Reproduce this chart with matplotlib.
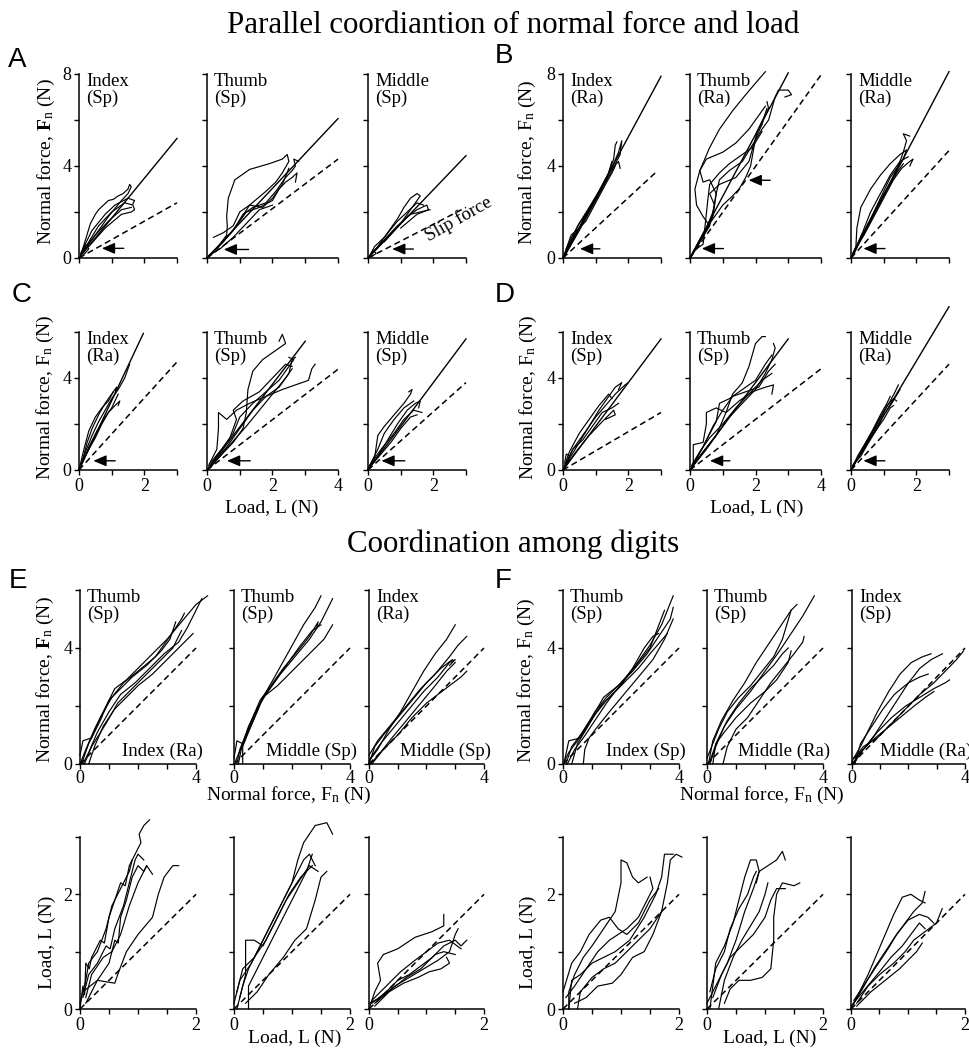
import matplotlib
matplotlib.use('Agg')
import matplotlib.pyplot as plt
from matplotlib.transforms import offset_copy

plt.rcParams['font.family'] = 'Liberation Serif'
plt.rcParams['mathtext.fontset'] = 'custom'
plt.rcParams['mathtext.rm'] = 'Liberation Serif'
plt.rcParams['mathtext.it'] = 'Liberation Serif:italic'
plt.rcParams['mathtext.bf'] = 'Liberation Serif:bold'

# ------------------------------------------------------------------ data
TITLE_TOP = "Parallel coordiantion of normal force and load"
TITLE_MID = "Coordination among digits"

# Rows A-D: normal force vs load. label, x max, solid line end, dashed (slip) end, arrows (tail x, head x, y)
A_labels = ["Index\n(Sp)", "Thumb\n(Sp)", "Middle\n(Sp)"]
B_labels = ["Index\n(Ra)", "Thumb\n(Ra)", "Middle\n(Ra)"]
C_labels = ["Index\n(Ra)", "Thumb\n(Sp)", "Middle\n(Sp)"]
D_labels = ["Index\n(Sp)", "Thumb\n(Sp)", "Middle\n(Ra)"]
xmax_ABCD = [3, 4, 3]

A_solid = [(3, 5.2), (4, 6.06), (3, 4.45)]
A_dash = [(3, 2.4), (4, 4.3), (3, 2.2)]
A_arrows = [[(1.37, 0.70, 0.42)], [(1.27, 0.51, 0.37)], [(1.39, 0.74, 0.39)]]
B_solid = [(3, 7.9), (3.0, 8.05), (3, 8.1)]
B_dash = [(2.9, 3.8), (4, 7.96), (3, 4.67)]
B_arrows = [[(1.13, 0.52, 0.40)], [(1.02, 0.36, 0.41), (2.45, 1.79, 3.38)], [(1.04, 0.38, 0.41)]]
C_solid = [(1.97, 5.94), (3.0, 5.6), (3, 5.7)]
C_dash = [(3, 4.7), (4, 4.38), (3, 3.8)]
C_arrows = [[(1.11, 0.44, 0.40)], [(1.32, 0.61, 0.40)], [(1.13, 0.41, 0.40)]]
D_solid = [(3, 5.7), (3.0, 5.7), (3, 7.1)]
D_dash = [(3, 2.5), (4, 4.4), (3, 4.6)]
D_arrows = [[], [(1.22, 0.61, 0.40)], [(1.04, 0.38, 0.40)]]

A_index = [
    [(0.05, 0.1), (0.2, 0.8), (0.35, 1.5), (0.5, 1.9), (0.6, 2.1), (0.75, 2.3), (0.9, 2.5), (1.05, 2.55), (1.2, 2.7), (1.35, 2.8), (1.5, 3.0), (1.55, 3.2), (1.6, 3.1), (1.5, 2.8), (1.3, 2.5), (0.9, 1.8), (0.5, 1.0), (0.15, 0.3)],
    [(0, 0), (0.3, 0.7), (0.6, 1.4), (1.0, 2.0), (1.4, 2.4), (1.65, 2.3), (1.7, 2.1), (1.6, 2.0), (1.3, 1.9), (0.8, 1.3), (0.3, 0.5)],
    [(0.05, 0.2), (0.4, 1.2), (0.8, 1.9), (1.1, 2.3), (1.5, 2.6), (1.7, 2.5), (1.65, 2.35)],
    [(0.1, 0.3), (0.5, 1.0), (0.9, 1.6), (1.3, 2.1), (1.6, 2.2)],
    [(0.1, 0.2), (0.2, 0.6), (0.3, 0.4), (0.15, 0.15)],
]
A_thumb = [
    [(0.1, 0.1), (0.4, 0.6), (0.6, 1.0), (0.62, 1.4), (0.6, 1.8), (0.65, 2.6), (0.85, 3.4), (1.3, 3.85), (1.9, 4.1), (2.3, 4.3), (2.45, 4.5), (2.5, 4.2), (2.3, 3.7), (2.1, 3.3), (1.8, 2.9), (1.3, 2.3), (0.8, 1.2), (0.3, 0.4)],
    [(0, 0), (0.4, 0.6), (0.8, 1.2), (1.1, 1.9), (1.4, 2.2), (1.8, 2.4), (2.1, 2.9), (2.4, 3.5), (2.6, 3.8), (2.7, 4.0), (2.65, 4.3), (2.8, 4.2)],
    [(0.05, 0.1), (0.5, 0.7), (0.9, 1.4), (1.2, 2.0), (1.6, 2.2), (2.0, 2.5), (2.2, 3.0), (2.4, 3.3), (2.6, 3.5), (2.75, 3.7), (2.7, 3.3)],
    [(0.2, 0.9), (0.5, 1.1), (0.8, 1.4), (1.0, 2.0), (1.3, 2.3), (1.7, 2.2), (2.0, 2.6), (2.3, 3.2), (2.5, 3.9)],
    [(0.05, 0.1), (0.4, 0.4), (0.8, 0.9), (1.2, 1.5), (1.6, 2.1), (2.0, 2.3)],
]
A_middle = [
    [(0.05, 0.1), (0.3, 0.5), (0.6, 1.1), (0.9, 1.7), (1.1, 2.2), (1.3, 2.6), (1.5, 2.8), (1.6, 2.7), (1.4, 2.3), (1.0, 1.5), (0.5, 0.7)],
    [(0, 0), (0.4, 0.6), (0.8, 1.2), (1.2, 1.8), (1.5, 2.1), (1.8, 2.3), (1.85, 2.1), (1.5, 1.9), (1.0, 1.3)],
    [(0.05, 0.1), (0.5, 0.8), (0.9, 1.4), (1.3, 1.9), (1.6, 2.0), (1.9, 2.1)],
    [(0.1, 0.2), (0.2, 0.5), (0.5, 0.9), (0.9, 1.6), (1.2, 2.0), (1.5, 2.4), (1.7, 2.3)],
    [(0.05, 0.1), (0.15, 0.35), (0.25, 0.2), (0.1, 0.05)],
]
B_index = [
    [(0, 0), (0.2, 0.6), (0.4, 1.1), (0.7, 1.8), (1.0, 2.6), (1.3, 3.4), (1.55, 4.1), (1.7, 4.6), (1.8, 5.1), (1.75, 4.5), (1.5, 3.8), (1.0, 2.5), (0.5, 1.2), (0.1, 0.2)],
    [(0.05, 0.1), (0.3, 0.9), (0.45, 1.4), (0.8, 2.2), (1.1, 2.9), (1.4, 3.7), (1.55, 4.3), (1.6, 4.9), (1.65, 5.05)],
    [(0, 0), (0.15, 0.6), (0.25, 1.0), (0.5, 1.3), (0.7, 1.6), (1.0, 2.4), (1.3, 3.2), (1.5, 3.7), (1.6, 4.0)],
    [(0.05, 0.2), (0.4, 1.0), (0.6, 1.6), (0.9, 2.4), (1.2, 3.1), (1.45, 3.8), (1.7, 4.2), (1.75, 3.9)],
    [(0.1, 0.4), (0.3, 1.0), (0.5, 1.5), (0.8, 2.1), (1.1, 2.8), (1.35, 3.5), (1.5, 4.2)],
]
B_thumb = [
    [(0, 0), (0.3, 0.8), (0.6, 1.4), (0.4, 1.8), (0.2, 2.3), (0.15, 3.0), (0.3, 3.8), (0.6, 4.8), (0.9, 5.6), (1.3, 6.4), (1.7, 7.1), (2.0, 7.6), (2.3, 8.1)],
    [(0.05, 0.1), (0.5, 1.2), (0.7, 1.8), (0.8, 2.8), (0.6, 3.4), (0.4, 3.3), (0.3, 3.8), (0.5, 4.3), (1.0, 4.6), (1.4, 5.0), (1.8, 5.6), (2.1, 6.2), (2.3, 6.6)],
    [(0, 0), (0.6, 1.5), (1.0, 2.3), (1.3, 2.7), (1.5, 3.0), (1.7, 3.5), (1.85, 4.0), (1.95, 4.8), (2.05, 5.5), (2.25, 6.1), (2.4, 6.5), (2.35, 6.8)],
    [(0.05, 0.1), (0.5, 1.3), (0.7, 2.0), (0.8, 2.8), (0.9, 3.4), (1.2, 3.8), (1.6, 4.2), (1.9, 4.9), (2.2, 5.6), (2.4, 6.0), (2.5, 6.5), (2.6, 7.0), (2.7, 7.3), (3.0, 7.3), (3.1, 7.1), (2.9, 7.0)],
    [(0.1, 0.2), (0.6, 1.4), (0.75, 2.3), (0.6, 2.8), (0.9, 3.2), (1.4, 3.5), (1.8, 4.2), (2.0, 5.2), (2.2, 5.8), (2.3, 6.3), (2.35, 6.5)],
    [(0.1, 0.3), (0.4, 0.6), (0.55, 2.6), (0.6, 3.2), (0.9, 3.7), (1.2, 4.1), (1.5, 4.4), (1.9, 4.8), (2.2, 5.5)],
]
B_middle = [
    [(0, 0), (0.15, 0.5), (0.18, 1.3), (0.3, 2.2), (0.6, 3.0), (0.9, 3.6), (1.2, 4.1), (1.5, 4.5), (1.7, 4.7), (1.6, 4.3), (1.2, 3.5), (0.7, 2.0), (0.3, 0.8)],
    [(0.05, 0.1), (0.3, 0.9), (0.6, 1.7), (0.9, 2.5), (1.2, 3.3), (1.45, 4.0), (1.6, 4.6), (1.7, 5.1), (1.6, 5.4), (1.8, 5.3)],
    [(0.05, 0.2), (0.4, 1.0), (0.7, 1.8), (1.0, 2.6), (1.3, 3.4), (1.55, 3.9), (1.8, 4.2), (1.9, 4.3), (1.8, 4.0)],
    [(0.1, 0.2), (0.5, 1.4), (0.8, 2.2), (1.1, 3.0), (1.4, 3.7), (1.6, 4.1)],
    [(0.0, 0.0), (0.35, 1.1), (0.6, 2.0), (0.9, 2.8), (1.2, 3.6), (1.5, 4.2), (1.75, 4.4)],
]
C_index = [
    [(0, 0), (0.2, 0.8), (0.4, 1.5), (0.6, 2.1), (0.8, 2.6), (1.0, 3.1), (1.2, 3.5), (1.4, 4.0), (1.55, 4.6)],
    [(0.05, 0.1), (0.25, 1.2), (0.4, 1.8), (0.6, 2.4), (0.8, 2.9), (1.0, 3.3), (1.15, 3.6), (1.1, 3.3)],
    [(0.05, 0.2), (0.3, 0.9), (0.5, 1.4), (0.7, 2.0), (0.9, 2.5), (1.1, 2.8), (1.25, 3.0), (1.2, 2.8)],
    [(0, 0), (0.15, 0.9), (0.3, 1.7), (0.5, 2.3), (0.7, 2.7), (0.9, 3.0), (1.05, 3.4)],
    [(0.1, 0.3), (0.3, 1.0), (0.55, 1.7), (0.8, 2.3), (1.0, 2.7), (1.2, 3.3)],
]
C_thumb = [
    [(0, 0), (0.4, 0.6), (0.8, 1.2), (1.1, 1.8), (1.2, 2.5), (1.25, 3.5), (1.4, 4.3), (1.7, 4.8), (2.1, 5.2), (2.4, 5.5), (2.3, 5.9), (2.2, 5.6)],
    [(0.05, 0.1), (0.6, 1.0), (1.0, 1.8), (1.4, 2.6), (1.8, 3.2), (2.3, 3.5), (2.7, 3.7), (3.1, 3.9), (3.2, 4.4), (3.3, 4.6)],
    [(0.05, 0.2), (0.3, 0.9), (0.35, 1.8), (0.35, 2.5), (0.6, 2.2), (0.9, 2.6), (1.3, 2.9), (1.8, 3.2), (2.2, 3.6), (2.5, 4.2), (2.6, 4.8), (2.7, 4.9)],
    [(0.1, 0.3), (0.5, 1.0), (0.8, 1.6), (1.0, 2.3), (1.4, 2.9), (1.8, 3.4), (2.2, 3.9), (2.5, 4.5), (2.65, 4.8), (2.5, 4.9)],
    [(0, 0), (0.4, 0.8), (0.7, 1.4), (0.9, 2.2), (0.8, 2.6), (1.1, 3.0), (1.6, 3.4), (2.0, 4.0), (2.4, 4.6), (2.6, 4.5)],
    [(0.1, 0.1), (0.7, 1.1), (1.2, 1.9), (1.6, 2.6), (2.0, 3.3), (2.4, 4.0), (2.6, 4.4)],
]
C_middle = [
    [(0, 0), (0.2, 0.5), (0.25, 1.0), (0.3, 1.5), (0.5, 1.9), (0.8, 2.4), (1.1, 2.9), (1.3, 3.3), (1.35, 3.5), (1.25, 3.4)],
    [(0.05, 0.1), (0.3, 0.6), (0.6, 1.3), (0.9, 2.0), (1.2, 2.6), (1.45, 2.9), (1.6, 3.0), (1.55, 2.7)],
    [(0.05, 0.2), (0.4, 0.9), (0.8, 1.6), (1.1, 2.2), (1.4, 2.6), (1.65, 2.5)],
    [(0.1, 0.2), (0.4, 0.7), (0.7, 1.2), (1.0, 1.8), (1.3, 2.3), (1.5, 2.4)],
    [(0, 0.05), (0.3, 0.9), (0.5, 1.6), (0.8, 2.2), (1.1, 2.7), (1.4, 3.0)],
]
D_index = [
    [(0, 0), (0.2, 0.5), (0.5, 1.2), (0.8, 1.9), (1.1, 2.6), (1.4, 3.2), (1.6, 3.6), (1.8, 3.8), (1.7, 3.5)],
    [(0.05, 0.2), (0.2, 0.8), (0.5, 1.6), (0.8, 2.2), (1.1, 2.8), (1.4, 3.3), (1.5, 3.1)],
    [(0.05, 0.1), (0.4, 0.8), (0.8, 1.5), (1.2, 2.1), (1.55, 2.6), (1.6, 2.4), (1.3, 2.2)],
    [(0, 0), (0.3, 0.9), (0.7, 1.7), (1.0, 2.3), (1.3, 2.8), (1.6, 3.3), (1.9, 3.7), (2.0, 3.8)],
    [(0.1, 0.3), (0.3, 0.9), (0.6, 1.3), (0.9, 1.9), (1.2, 2.5), (1.5, 2.7), (1.7, 2.9)],
    [(0.05, 0.3), (0.1, 0.7), (0.2, 0.6), (0.15, 0.3)],
]
D_thumb = [
    [(0, 0), (0.4, 0.8), (0.8, 1.5), (1.1, 2.5), (1.3, 3.3), (1.6, 3.8), (1.8, 4.5), (1.9, 5.0), (2.0, 5.5), (2.2, 5.8), (2.3, 5.8)],
    [(0.05, 0.1), (0.5, 0.9), (0.9, 1.7), (1.2, 2.3), (1.6, 2.9), (2.0, 3.5), (2.3, 4.2), (2.5, 4.8), (2.6, 5.3), (2.55, 5.5)],
    [(0.1, 0.3), (0.1, 1.1), (0.4, 1.2), (0.5, 2.0), (0.5, 2.5), (0.8, 2.7), (1.1, 2.5), (1.5, 3.0), (1.9, 3.4), (2.3, 3.6), (2.55, 3.7), (2.5, 3.3)],
    [(0, 0), (0.4, 1.0), (0.7, 1.9), (1.0, 2.6), (1.3, 3.2), (1.7, 3.4), (2.1, 3.6), (2.4, 4.3), (2.6, 4.6)],
    [(0.05, 0.2), (0.3, 0.8), (0.6, 1.4), (1.0, 2.0), (1.4, 2.7), (1.8, 3.3), (2.2, 3.9), (2.5, 4.2)],
    [(0.1, 0.2), (0.5, 1.3), (0.8, 2.1), (0.9, 2.9), (1.2, 3.1), (1.6, 3.5), (2.0, 3.9), (2.3, 4.6), (2.5, 5.0)],
]
D_middle = [
    [(0, 0), (0.2, 0.5), (0.4, 1.0), (0.6, 1.5), (0.8, 2.0), (1.0, 2.5), (1.2, 3.0), (1.35, 3.4), (1.45, 3.7)],
    [(0.05, 0.1), (0.3, 0.8), (0.5, 1.3), (0.7, 1.8), (0.9, 2.3), (1.1, 2.8), (1.3, 3.1), (1.4, 3.0)],
    [(0.05, 0.2), (0.35, 0.8), (0.55, 1.3), (0.75, 1.7), (1.0, 2.2), (1.2, 2.7), (1.3, 2.8)],
    [(0, 0), (0.2, 0.6), (0.45, 1.2), (0.65, 1.7), (0.9, 2.4), (1.1, 2.9), (1.2, 3.2)],
    [(0.1, 0.3), (0.3, 0.6), (0.5, 1.1), (0.8, 1.8), (1.0, 2.4), (1.25, 2.9), (1.5, 3.5)],
]

# Rows E/F: normal force of one digit vs another
E_top_labels = ["Thumb\n(Sp)", "Thumb\n(Sp)", "Index\n(Ra)"]
E_bot_labels = ["Index (Ra)", "Middle (Sp)", "Middle (Sp)"]
F_top_labels = ["Thumb\n(Sp)", "Thumb\n(Sp)", "Index\n(Sp)"]
F_bot_labels = ["Index (Sp)", "Middle (Ra)", "Middle (Ra)"]

E_1 = [
    [(0, 0), (0.2, 0.5), (0.5, 1.2), (0.9, 2.0), (1.2, 2.6), (1.6, 2.9), (2.0, 3.3), (2.5, 3.8), (3.0, 4.3), (3.5, 4.9), (4.0, 5.5), (4.4, 5.8)],
    [(0.05, 0.0), (0.3, 0.7), (0.7, 1.5), (1.0, 2.2), (1.4, 2.6), (1.8, 3.0), (2.3, 3.4), (2.8, 3.9), (3.1, 4.3), (3.3, 4.9)],
    [(0.1, 0.0), (0.3, 0.4), (0.6, 1.1), (1.0, 1.8), (1.4, 2.4), (1.9, 2.8), (2.4, 3.3), (2.9, 3.8), (3.4, 4.2), (3.7, 4.7), (4.2, 5.7)],
    [(0.3, 0.0), (0.5, 0.6), (0.8, 1.3), (1.2, 1.9), (1.6, 2.3), (2.0, 2.7), (2.5, 3.1), (3.0, 3.6), (3.6, 4.2), (3.9, 4.5)],
    [(0.0, 0.3), (0.1, 0.8), (0.4, 0.9), (0.7, 1.6), (1.1, 2.3), (1.5, 2.8), (2.0, 3.2), (2.6, 3.7), (3.1, 4.4), (3.5, 5.0), (3.6, 5.2)],
    [(0.15, 0.0), (0.4, 0.6), (0.9, 1.4), (1.3, 2.1), (1.7, 2.5), (2.2, 3.0), (2.8, 3.6), (3.2, 4.0), (3.5, 4.6)],
]
E_2 = [
    [(0.1, 0.0), (0.2, 0.5), (0.4, 1.0), (0.7, 1.7), (1.0, 2.3), (1.4, 3.0), (1.9, 3.9), (2.4, 4.8), (2.8, 5.4), (3.0, 5.8)],
    [(0.0, 0.2), (0.1, 0.8), (0.3, 0.7), (0.5, 1.3), (0.8, 1.9), (1.1, 2.4), (1.6, 3.1), (2.1, 3.7), (2.6, 4.3), (3.0, 4.9), (3.4, 5.7)],
    [(0.3, 0.0), (0.3, 0.6), (0.5, 1.1), (0.8, 1.8), (1.0, 2.3), (1.5, 2.7), (2.0, 3.2), (2.6, 3.8), (3.1, 4.3), (3.4, 4.8)],
    [(0.15, 0.0), (0.25, 0.5), (0.6, 1.5), (0.9, 2.2), (1.2, 2.6), (1.7, 3.3), (2.2, 3.9), (2.6, 4.4), (2.9, 4.9), (2.85, 4.7)],
    [(0.05, 0.1), (0.4, 0.9), (0.7, 1.6), (1.0, 2.3), (1.3, 2.7), (1.8, 3.4), (2.3, 4.1), (2.7, 4.6), (3.0, 4.8)],
]
E_3 = [
    [(0.0, 0.1), (0.3, 0.5), (0.7, 1.2), (1.1, 1.8), (1.5, 2.5), (1.9, 3.2), (2.3, 3.8), (2.7, 4.3), (3.0, 4.8)],
    [(0.05, 0.2), (0.4, 0.7), (0.9, 1.3), (1.4, 1.9), (1.9, 2.5), (2.4, 3.0), (2.8, 3.5), (3.0, 3.6), (2.8, 3.4)],
    [(0.1, 0.0), (0.5, 0.5), (1.0, 1.0), (1.5, 1.6), (2.0, 2.1), (2.4, 2.4), (2.8, 2.7), (3.2, 3.0), (3.4, 3.2)],
    [(0.0, 0.3), (0.3, 0.8), (0.8, 1.4), (1.3, 2.0), (1.8, 2.6), (2.3, 3.1), (2.8, 3.7), (3.1, 4.1), (3.4, 4.4)],
    [(0.05, 0.0), (0.4, 0.4), (0.8, 0.9), (1.3, 1.5), (1.8, 2.1), (2.3, 2.7), (2.7, 3.2), (3.0, 3.5)],
    [(0.0, 0.0), (0.2, 0.6), (0.5, 1.0), (1.0, 1.6), (1.5, 2.2), (2.0, 2.8), (2.5, 3.3), (2.9, 3.6)],
]
F_1 = [
    [(0.0, 0.0), (0.2, 0.4), (0.5, 0.8), (0.8, 1.3), (1.1, 1.8), (1.5, 2.3), (2.0, 2.8), (2.5, 3.4), (3.0, 4.1), (3.4, 4.8), (3.8, 5.8)],
    [(0.1, 0.0), (0.3, 0.6), (0.6, 1.0), (1.0, 1.6), (1.4, 2.3), (1.9, 2.7), (2.4, 3.2), (2.9, 3.8), (3.3, 4.4), (3.7, 5.0), (3.8, 5.4)],
    [(0.7, 0.0), (0.75, 0.5), (0.9, 0.9), (1.2, 1.3), (1.6, 1.8), (2.1, 2.4), (2.6, 3.0), (3.1, 3.6), (3.5, 4.3), (3.8, 5.0)],
    [(0.3, 0.0), (0.5, 0.7), (0.8, 1.2), (1.1, 1.7), (1.5, 2.2), (2.0, 2.7), (2.4, 3.3), (2.8, 4.0), (3.1, 4.4), (3.3, 4.5)],
    [(0.05, 0.1), (0.2, 0.8), (0.6, 0.9), (0.9, 1.4), (1.3, 2.0), (1.8, 2.5), (2.2, 3.0), (2.6, 3.5), (3.0, 4.0), (3.5, 5.3)],
    [(0.15, 0.0), (0.4, 0.5), (0.7, 0.9), (1.1, 1.5), (1.5, 2.1), (1.8, 2.5), (2.2, 2.9), (2.6, 3.3), (3.0, 3.8), (3.6, 4.5)],
]
F_2 = [
    [(0.05, 0.0), (0.2, 0.8), (0.5, 1.5), (0.9, 2.2), (1.3, 2.8), (1.7, 3.5), (2.1, 4.1), (2.5, 4.7), (2.9, 5.3), (3.1, 5.5)],
    [(0.1, 0.0), (0.3, 0.6), (0.6, 1.3), (1.0, 1.9), (1.5, 2.5), (2.0, 3.2), (2.5, 3.9), (2.9, 4.5), (3.3, 5.1), (3.7, 5.8)],
    [(0.0, 0.2), (0.2, 0.7), (0.4, 1.2), (0.7, 1.8), (1.1, 2.3), (1.5, 2.7), (1.9, 3.2), (2.3, 3.7), (2.6, 4.3), (2.9, 5.3)],
    [(0.2, 0.0), (0.3, 0.7), (0.6, 1.1), (1.0, 1.6), (1.5, 2.1), (2.0, 2.5), (2.4, 2.9), (2.8, 3.5), (2.9, 3.9)],
    [(0.55, 0.0), (0.7, 0.6), (1.0, 1.2), (1.4, 1.6), (1.8, 2.2), (2.2, 2.8), (2.6, 3.3), (3.0, 3.8), (3.3, 4.2), (3.35, 4.4)],
    [(0.1, 0.1), (0.35, 0.8), (0.7, 1.5), (1.1, 2.1), (1.5, 2.6), (1.9, 3.0), (2.3, 3.4), (2.6, 3.8), (2.8, 4.0)],
]
F_3 = [
    [(0.0, 0.1), (0.3, 0.6), (0.6, 1.2), (0.9, 1.8), (1.3, 2.5), (1.7, 3.1), (2.1, 3.5), (2.5, 3.7), (2.8, 3.8)],
    [(0.05, 0.0), (0.4, 0.5), (0.8, 1.0), (1.2, 1.6), (1.6, 2.2), (2.0, 2.8), (2.4, 3.3), (2.8, 3.6), (3.2, 3.8)],
    [(0.1, 0.2), (0.4, 0.6), (0.9, 0.9), (1.4, 1.4), (1.9, 1.9), (2.4, 2.4), (2.9, 2.8), (3.3, 3.2), (3.7, 3.6), (3.95, 3.9)],
    [(0.0, 0.0), (0.3, 0.4), (0.7, 0.8), (1.2, 1.2), (1.7, 1.6), (2.2, 2.0), (2.6, 2.3), (2.9, 2.5)],
    [(0.05, 0.2), (0.4, 0.5), (0.9, 1.1), (1.4, 1.6), (1.9, 2.0), (2.4, 2.3), (2.9, 2.6), (3.3, 2.8), (3.45, 2.9)],
    [(0.1, 0.0), (0.3, 0.7), (0.7, 1.3), (1.1, 1.9), (1.5, 2.4), (2.0, 2.8), (2.4, 3.0), (2.7, 3.1)],
]

# Bottom row: load of one digit vs another
EL_1 = [
    [(0.0, 0.0), (0.05, 0.4), (0.08, 0.25), (0.1, 0.8), (0.16, 0.7), (0.2, 0.9), (0.35, 1.2), (0.42, 1.15), (0.5, 1.6), (0.6, 1.9), (0.7, 2.2), (0.78, 2.15), (0.85, 2.5), (0.95, 2.7), (1.05, 2.9), (1.02, 3.05), (1.1, 3.2), (1.2, 3.3)],
    [(0.05, 0.2), (0.15, 0.6), (0.3, 0.8), (0.45, 1.1), (0.52, 1.05), (0.6, 1.4), (0.75, 1.8), (0.85, 2.2), (0.95, 2.6), (1.0, 2.7), (1.1, 2.6)],
    [(0.1, 0.1), (0.3, 0.5), (0.5, 0.8), (0.6, 1.2), (0.66, 1.15), (0.7, 1.6), (0.8, 1.9), (0.9, 2.3), (1.0, 2.5), (1.1, 2.4), (1.15, 2.5)],
    [(0.05, 0.3), (0.3, 0.5), (0.6, 0.45), (0.65, 0.6), (0.8, 1.0), (1.0, 1.3), (1.25, 1.6), (1.35, 2.0), (1.45, 2.3), (1.6, 2.5), (1.7, 2.5)],
    [(0.1, 0.2), (0.2, 0.6), (0.4, 0.9), (0.55, 1.0), (0.7, 1.3), (0.85, 1.8), (1.0, 2.2), (1.15, 2.5), (1.25, 2.35)],
    [(0.0, 0.1), (0.1, 0.5), (0.15, 0.8), (0.3, 1.0), (0.45, 1.4), (0.55, 1.8), (0.7, 2.1), (0.85, 2.4), (0.9, 2.6)],
]
EL_2 = [
    [(0.05, 0.0), (0.15, 0.4), (0.25, 0.7), (0.4, 1.0), (0.6, 1.4), (0.8, 1.8), (1.0, 2.2), (1.1, 2.6), (1.2, 2.9), (1.4, 3.2), (1.6, 3.25), (1.7, 3.05)],
    [(0.0, 0.1), (0.1, 0.5), (0.3, 0.8), (0.45, 1.1), (0.65, 1.5), (0.85, 1.9), (1.05, 2.3), (1.2, 2.6), (1.3, 2.7), (1.4, 2.5)],
    [(0.2, 0.1), (0.4, 0.3), (0.6, 0.6), (0.85, 0.9), (1.05, 1.2), (1.25, 1.4), (1.4, 1.9), (1.5, 2.3), (1.6, 2.4)],
    [(0.1, 0.2), (0.2, 0.6), (0.2, 1.2), (0.35, 1.2), (0.5, 1.1), (0.7, 1.5), (0.9, 1.9), (1.1, 2.2), (1.3, 2.5), (1.45, 2.4)],
    [(0.25, 0.0), (0.25, 0.4), (0.4, 0.7), (0.55, 1.0), (0.7, 1.3), (0.9, 1.7), (1.1, 2.1), (1.25, 2.4), (1.35, 2.7)],
    [(0.05, 0.3), (0.15, 0.7), (0.35, 0.9), (0.55, 1.2), (0.75, 1.6), (0.95, 2.0), (1.15, 2.3), (1.35, 2.5)],
]
EL_3 = [
    [(0.0, 0.0), (0.1, 0.3), (0.2, 0.5), (0.15, 0.8), (0.25, 0.95), (0.5, 1.05), (0.8, 1.25), (1.1, 1.35), (1.3, 1.45), (1.3, 1.65)],
    [(0.05, 0.1), (0.3, 0.3), (0.5, 0.5), (0.7, 0.6), (0.9, 0.75), (1.1, 0.9), (1.3, 1.1), (1.5, 1.2), (1.6, 1.1), (1.7, 1.2)],
    [(0.0, 0.1), (0.2, 0.2), (0.45, 0.4), (0.7, 0.55), (0.95, 0.7), (1.2, 0.85), (1.4, 1.0), (1.5, 1.3), (1.55, 1.4)],
    [(0.1, 0.05), (0.35, 0.3), (0.6, 0.45), (0.85, 0.55), (1.05, 0.65), (1.25, 0.7), (1.4, 0.8), (1.35, 0.9)],
    [(0.05, 0.15), (0.3, 0.4), (0.55, 0.65), (0.8, 0.85), (1.0, 1.0), (1.2, 1.15), (1.4, 1.2), (1.6, 1.05)],
    [(0.1, 0.1), (0.4, 0.35), (0.65, 0.55), (0.9, 0.7), (1.15, 0.95), (1.3, 1.0), (1.5, 0.95)],
]
FL_1 = [
    [(0.1, 0.0), (0.1, 0.3), (0.2, 0.6), (0.35, 0.9), (0.5, 1.1), (0.7, 1.4), (0.9, 1.7), (1.0, 2.2), (1.0, 2.6), (1.1, 2.55), (1.2, 2.3), (1.3, 2.2), (1.45, 2.3)],
    [(0.2, 0.1), (0.4, 0.2), (0.6, 0.4), (0.85, 0.45), (1.0, 0.6), (1.2, 0.9), (1.4, 1.0), (1.55, 1.3), (1.7, 1.7), (1.8, 2.2), (1.85, 2.6), (1.95, 2.7), (2.05, 2.65)],
    [(0.05, 0.2), (0.2, 0.4), (0.4, 0.7), (0.6, 1.0), (0.8, 1.2), (1.1, 1.4), (1.3, 1.6), (1.45, 1.9), (1.55, 2.1), (1.5, 2.3)],
    [(0.0, 0.3), (0.15, 0.8), (0.3, 1.0), (0.45, 1.3), (0.65, 1.55), (0.8, 1.6), (0.95, 1.4), (1.1, 1.3), (1.3, 1.5), (1.5, 1.9), (1.65, 2.1)],
    [(0.1, 0.0), (0.15, 0.5), (0.3, 0.6), (0.5, 0.8), (0.7, 0.9), (0.9, 1.0), (1.15, 1.2), (1.4, 1.6), (1.6, 2.0), (1.7, 2.3), (1.75, 2.7), (1.9, 2.7)],
    [(0.25, 0.0), (0.3, 0.3), (0.5, 0.55), (0.7, 0.7), (0.9, 0.8), (1.1, 1.0), (1.3, 1.2), (1.5, 1.4), (1.7, 1.7)],
]
FL_2 = [
    [(0.05, 0.0), (0.1, 0.4), (0.15, 0.8), (0.3, 1.1), (0.45, 1.5), (0.55, 1.9), (0.65, 2.3), (0.75, 2.6), (0.85, 2.6), (0.9, 2.4), (0.85, 2.2)],
    [(0.0, 0.1), (0.2, 0.5), (0.35, 0.8), (0.5, 1.2), (0.65, 1.7), (0.8, 2.1), (0.9, 2.4), (1.05, 2.5), (1.2, 2.6), (1.3, 2.75), (1.35, 2.6)],
    [(0.3, 0.1), (0.4, 0.35), (0.55, 0.5), (0.75, 0.5), (0.95, 0.55), (1.1, 0.7), (1.15, 1.2), (1.15, 1.6), (1.2, 2.0), (1.3, 2.2), (1.5, 2.15), (1.6, 2.2)],
    [(0.1, 0.2), (0.25, 0.6), (0.4, 0.9), (0.6, 1.1), (0.8, 1.3), (1.0, 1.6), (1.1, 1.9), (1.2, 2.1), (1.35, 2.1)],
    [(0.05, 0.3), (0.15, 0.7), (0.3, 1.0), (0.4, 1.4), (0.55, 1.75), (0.7, 2.0), (0.8, 2.3), (0.85, 2.4)],
    [(0.2, 0.0), (0.3, 0.5), (0.45, 0.9), (0.6, 1.2), (0.75, 1.45), (0.9, 1.7), (1.0, 2.0), (1.05, 2.2)],
]
FL_3 = [
    [(0.0, 0.0), (0.15, 0.3), (0.3, 0.6), (0.45, 0.95), (0.6, 1.3), (0.75, 1.65), (0.9, 1.95), (1.05, 2.0), (1.2, 1.9), (1.3, 1.85)],
    [(0.05, 0.1), (0.2, 0.35), (0.4, 0.7), (0.6, 1.0), (0.8, 1.3), (1.0, 1.55), (1.2, 1.65), (1.35, 1.6), (1.45, 1.5)],
    [(0.0, 0.05), (0.25, 0.35), (0.5, 0.65), (0.7, 0.9), (0.9, 1.1), (1.05, 1.3), (1.2, 1.5), (1.3, 1.4)],
    [(0.1, 0.1), (0.3, 0.4), (0.5, 0.6), (0.75, 0.8), (0.95, 1.0), (1.1, 1.2), (1.3, 1.35), (1.5, 1.5), (1.6, 1.75)],
    [(0.05, 0.15), (0.25, 0.45), (0.45, 0.75), (0.65, 1.05), (0.8, 1.3), (0.95, 1.5), (1.1, 1.7), (1.25, 1.85), (1.3, 2.05)],
    [(0.1, 0.05), (0.35, 0.3), (0.6, 0.5), (0.85, 0.7), (1.0, 0.85), (1.15, 1.0), (1.25, 1.15)],
]

# ------------------------------------------------------------------ layout (pixels)
W, H = 970, 1055
fig = plt.figure(figsize=(W / 100, H / 100), dpi=100)

COLS_L = [(79, 177), (207, 338), (368, 466)]
COLS_R = [(563, 661), (690, 821), (851, 949)]
COLS_EL = [(80, 196), (234, 350), (369, 484)]
COLS_FR = [(563, 679), (707, 823), (852, 965)]
ROW_AB = (74, 258)
ROW_CD = (332, 470)
ROW_EF = (590, 764)
ROW_LD = (837, 1009)

TICK_FS = 13
LAB_FS = 13.5


def make_ax(cols, row):
    (l, r), (t, b) = cols, row
    ax = fig.add_axes([l / W, 1 - b / H, (r - l) / W, (b - t) / H])
    ax.patch.set_alpha(0)
    for s in ('top', 'right'):
        ax.spines[s].set_visible(False)
    for s in ('left', 'bottom'):
        ax.spines[s].set_linewidth(1.1)
    ax.tick_params(direction='out', length=3.5, width=1.0, labelsize=TICK_FS, pad=2)
    return ax


def set_ticks(ax, xmax, ymax, xt, yt, xlab, ylab):
    ax.set_xlim(0, xmax)
    ax.set_ylim(0, ymax)
    ax.set_xticks(xt)
    ax.set_yticks(yt)
    ax.set_xticklabels([('%g' % v) if v in xlab else '' for v in xt])
    ax.set_yticklabels([('%g' % v) if v in ylab else '' for v in yt])


def traces(ax, tr):
    for t in tr:
        ax.plot([p[0] for p in t], [p[1] for p in t], color='black', lw=0.85, clip_on=False,
                solid_joinstyle='round')


def dashed(ax, end):
    ax.plot([0, end[0]], [0, end[1]], color='black', lw=1.1, ls=(0, (4, 2.5)), clip_on=False)


def top_label(ax, s):
    tr = offset_copy(ax.transAxes, fig=fig, x=7, y=1, units='dots')
    ax.text(0, 1, s, transform=tr, ha='left', va='top', fontsize=LAB_FS, linespacing=1.0)


def arrow(ax, a):
    tail, head, y = a
    ax.annotate('', xy=(head, y), xytext=(tail, y),
                arrowprops=dict(arrowstyle='-|>,head_length=0.65,head_width=0.28', color='black',
                                lw=1.0, shrinkA=0, shrinkB=0, mutation_scale=12), annotation_clip=False)


ABCD = [
    (COLS_L, ROW_AB, A_labels, A_solid, A_dash, A_arrows, [A_index, A_thumb, A_middle], 8, False),
    (COLS_R, ROW_AB, B_labels, B_solid, B_dash, B_arrows, [B_index, B_thumb, B_middle], 8, False),
    (COLS_L, ROW_CD, C_labels, C_solid, C_dash, C_arrows, [C_index, C_thumb, C_middle], 6, True),
    (COLS_R, ROW_CD, D_labels, D_solid, D_dash, D_arrows, [D_index, D_thumb, D_middle], 6, True),
]

for cols, row, labels, solids, dashes, arrows, trs, ymax, xlabs in ABCD:
    for i in range(3):
        ax = make_ax(cols[i], row)
        xm = xmax_ABCD[i]
        yt = list(range(0, ymax + 1, 2))
        ylab = ([0, 4, 8] if i == 0 else [])
        xt = list(range(0, xm + 1))
        xl = ([0, 2, 4] if xlabs else [])
        set_ticks(ax, xm, ymax, xt, yt, xl, ylab)
        traces(ax, trs[i])
        ax.plot([0, solids[i][0]], [0, solids[i][1]], color='black', lw=1.0, clip_on=False)
        dashed(ax, dashes[i])
        for a in arrows[i]:
            arrow(ax, a)
        top_label(ax, labels[i])
        if cols is COLS_L and row is ROW_AB and i == 2:
            ax.text(2.76, 1.70, 'Slip force', rotation=29.5, rotation_mode='anchor',
                    ha='center', va='center', fontsize=LAB_FS)

EF = [
    (COLS_EL, E_top_labels, E_bot_labels, [E_1, E_2, E_3]),
    (COLS_FR, F_top_labels, F_bot_labels, [F_1, F_2, F_3]),
]
for cols, tops, bots, trs in EF:
    for i in range(3):
        ax = make_ax(cols[i], ROW_EF)
        set_ticks(ax, 4, 6, [0, 1, 2, 3, 4], [0, 2, 4, 6], [0, 4], [0, 4] if i == 0 else [])
        ax.tick_params(axis='x', pad=0.5)
        traces(ax, trs[i])
        dashed(ax, (4, 4))
        top_label(ax, tops[i])
        trb = offset_copy(ax.transAxes, fig=fig, x=7, y=13, units='dots')
        ax.text(1, 0, bots[i], transform=trb, ha='right', va='center', fontsize=LAB_FS)

LOADS = [(COLS_EL, [EL_1, EL_2, EL_3]), (COLS_FR, [FL_1, FL_2, FL_3])]
for cols, trs in LOADS:
    for i in range(3):
        c = cols[i] if not (cols is COLS_FR and i == 2) else (851, 965)
        ax = make_ax(c, ROW_LD)
        set_ticks(ax, 2, 3, [0, 0.5, 1, 1.5, 2], [0, 1, 2, 3], [0, 2], [0, 2] if i == 0 else [])
        traces(ax, trs[i])
        dashed(ax, (2, 2))

# ------------------------------------------------------------------ figure texts
def ft(x, y, s, **kw):
    fig.text(x / W, 1 - y / H, s, **kw)

ft(513, 33, TITLE_TOP, ha='center', va='baseline', fontsize=22.3)
ft(513, 552, TITLE_MID, ha='center', va='baseline', fontsize=22.3)

for letter, x, y in [('A', 8, 67), ('B', 495, 63), ('C', 12, 302), ('D', 495, 302), ('E', 9, 588), ('F', 495, 588)]:
    ft(x, y, letter, ha='left', va='baseline', fontsize=20, family='Liberation Sans')

YL_BOLD = r'Normal force, $\mathbf{F}_\mathrm{n}$ (N)'
YL = r'Normal force, $\mathrm{F}_\mathrm{n}$ (N)'
YL_LOAD = 'Load, L (N)'
for x, y, s in [(46, 162, YL_BOLD), (527, 162, YL), (45, 397, YL), (528, 397, YL),
                (45, 680, YL_BOLD), (526, 680, YL), (47, 942, YL_LOAD), (528, 942, YL_LOAD)]:
    ft(x, y, s, rotation=90, ha='center', va='center', fontsize=14)

for x, y, s in [(272, 513, 'Load, L (N)'), (757, 513, 'Load, L (N)'),
                (289, 800, r'Normal force, $\mathrm{F}_\mathrm{n}$ (N)'),
                (762, 800, r'Normal force, $\mathrm{F}_\mathrm{n}$ (N)'),
                (295, 1043, 'Load, L (N)'), (770, 1043, 'Load, L (N)')]:
    ft(x, y, s, ha='center', va='baseline', fontsize=14)

fig.savefig('out.png', dpi=100)
